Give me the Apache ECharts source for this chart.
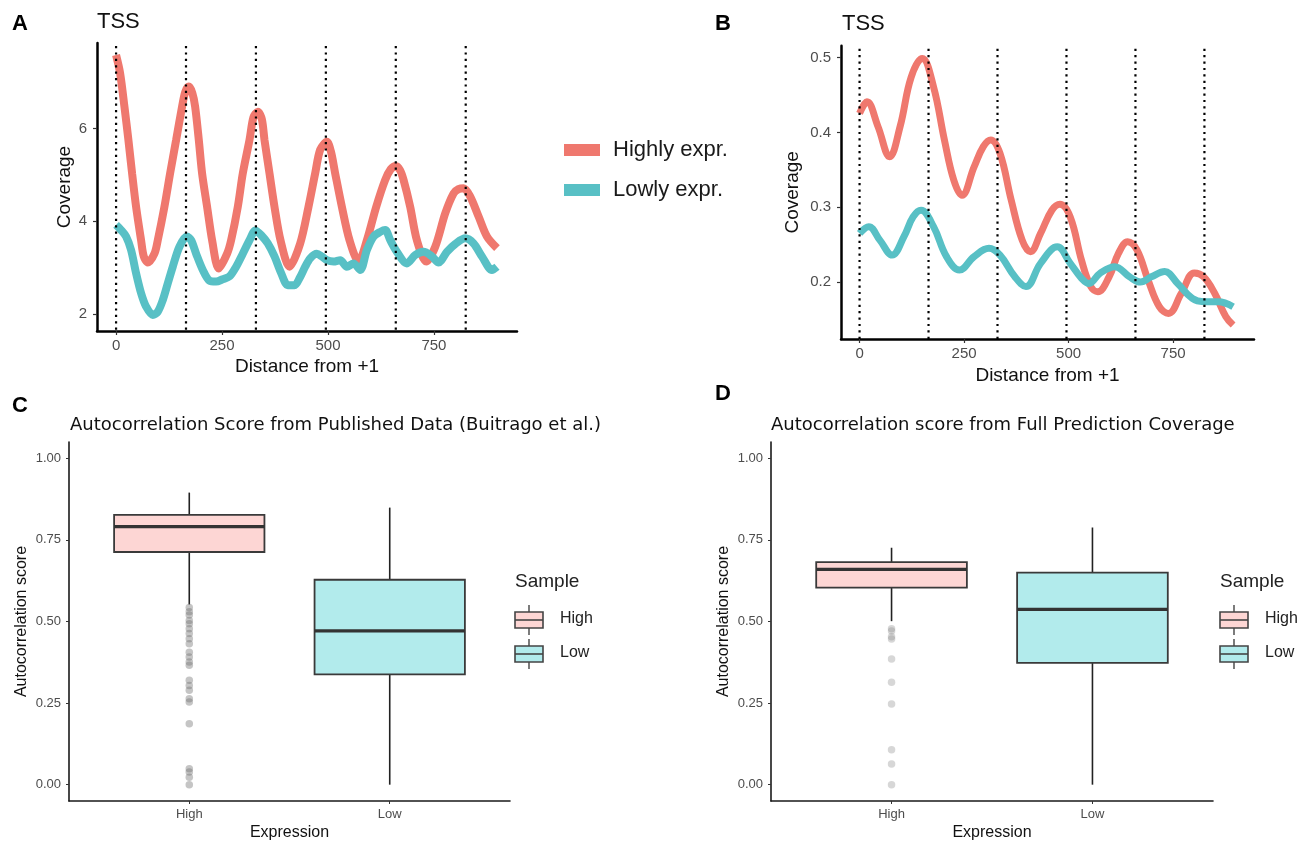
<!DOCTYPE html>
<html><head><meta charset="utf-8">
<script src="https://cdn.jsdelivr.net/npm/echarts@6/dist/echarts.min.js"></script>
<style>html,body{margin:0;padding:0;background:#fff}#c{width:1307px;height:843px}</style>
</head><body><div id="c"></div>
<script>
// ---------- Panel A (TSS coverage, published data) ----------
const aHighX = [0,9.5,19.7,29.1,37.8,47.2,59,65.3,74.8,90.5,98.4,114.1,127.5,141.7,155.8,163,171.6,180,186.5,195.2,203,214.8,226.6,242.4,262,271.5,287.2,299,314.8,324.2,334.5,343.9,350.2,362,373.8,388,409.2,434.4,454,469.8,481.6,497.4,507,517,532.8,550.9,572.1,591.8,613.8,635,648,660.2,670,678.3,694,709.8,731.9,753.1,776.7,796.4,808,820,835.7,855.4,875.1,898.7];
const aHighY = [7.58,7.19,6.47,5.75,5.03,4.31,3.59,3.24,3.11,3.30,3.59,4.31,5.03,5.75,6.47,6.78,6.90,6.76,6.47,5.75,5.03,4.31,3.59,2.98,3.30,3.59,4.31,5.03,5.75,6.24,6.36,6.20,5.75,5.03,4.31,3.59,3.02,3.52,4.31,5.03,5.54,5.71,5.50,5.03,4.31,3.59,3.13,3.59,4.31,4.89,5.12,5.19,5.10,4.89,4.31,3.59,3.13,3.45,4.17,4.60,4.69,4.71,4.53,4.10,3.67,3.42];
const aLowX = [0,11.8,23.6,35.4,47.2,59,70.8,86.6,98.4,110.2,122,133.8,149.5,166.8,177.1,188.9,204.6,220.3,236.1,251.8,267.6,283.3,299,314.8,328.9,342.3,358,373.8,389.5,405.3,421,434.4,446.2,458,473.7,485.5,497.4,513.1,528.8,544.6,560.3,576,591.8,607.5,623.3,635,646.9,662.6,686.2,705.9,725.6,745.3,761,780.6,800.3,823.9,843.6,863.3,886.9,898.7];
const aLowY = [3.92,3.81,3.67,3.38,2.88,2.45,2.16,1.98,2.05,2.30,2.66,3.02,3.45,3.67,3.59,3.30,2.95,2.72,2.70,2.75,2.81,3.02,3.30,3.59,3.80,3.70,3.52,3.24,2.88,2.62,2.62,2.80,3.02,3.20,3.30,3.24,3.16,3.13,3.16,3.02,3.09,2.95,3.38,3.67,3.77,3.81,3.59,3.34,3.09,3.27,3.34,3.24,3.11,3.34,3.51,3.63,3.52,3.24,2.95,3.02];
// ---------- Panel B (TSS coverage, predicted) ----------
const bHighX = [0,17.7,44,72,97,123.5,150,177,203,225.5,245,274,296,314,336,362.6,389,408.7,433,460,479.5,504,531,553,570,597,619,641.5,663.6,690,717,739,770,800.7,823,849.5,876,893.6];
const bHighY = [0.4255,0.441,0.408,0.3675,0.408,0.474,0.499,0.461,0.39,0.336,0.316,0.354,0.381,0.39,0.372,0.31,0.256,0.2405,0.265,0.296,0.304,0.287,0.229,0.194,0.187,0.207,0.238,0.254,0.243,0.203,0.167,0.158,0.185,0.212,0.207,0.185,0.154,0.1425];
const bLowX = [0,22,48.5,78,106,128,147,177,208,239,274,309.6,336,371.5,398,433,473,504,531,548.6,575,610.5,645.8,672,698,730,761,796,823,858,893.6];
const bLowY = [0.265,0.274,0.256,0.236,0.2605,0.287,0.296,0.274,0.234,0.216,0.234,0.245,0.236,0.207,0.194,0.225,0.247,0.225,0.205,0.198,0.2116,0.2205,0.207,0.200,0.207,0.214,0.198,0.178,0.1737,0.1737,0.167];
const nucleosomeLines = [0,165,330,495,660,825];
const seriesNames = ['Highly expr.','Lowly expr.'];
const distTicks = [0,250,500,750];
const aYTicks = [2,4,6];
const bYTicks = [0.2,0.3,0.4,0.5];
// ---------- Panels C & D (autocorrelation boxplots) ----------
const groups = ['High','Low'];
const cMin = [0.552,0.0], cQ1 = [0.713,0.338], cMed = [0.791,0.471], cQ3 = [0.827,0.628], cMax = [0.895,0.849];
const cOutHigh = [0.543,0.530,0.520,0.503,0.493,0.478,0.463,0.447,0.432,0.406,0.391,0.376,0.366,0.320,0.304,0.289,0.263,0.253,0.187,0.049,0.039,0.023,0.000];
const dMin = [0.501,0.0], dQ1 = [0.604,0.373], dMed = [0.660,0.537], dQ3 = [0.682,0.650], dMax = [0.726,0.788];
const dOutHigh = [0.478,0.471,0.453,0.446,0.385,0.314,0.247,0.107,0.063,0.000];
const scoreTicks = [0,0.25,0.5,0.75,1];

const FONT = 'Liberation Sans, Arial, Helvetica, sans-serif';
const WIDE = 'DejaVu Sans, Liberation Sans, sans-serif';
const RED = '#EF786E', BLUE = '#58C0C5';
const FILLS = ['#FDD6D4','#B2EBEC'];

const zip = (xs, ys) => xs.map((x,i)=>[x, ys[i]]);

function vline(params, api){
  const cs = params.coordSys;
  const x = api.coord([api.value(0), api.value(1)])[0];
  return {type:'line', shape:{x1:x,y1:cs.y+3,x2:x,y2:cs.y+cs.height},
    style:{stroke:'#000', lineWidth:2.2, lineDash:[2.2,4.2]}};
}
function boxItem(params, api){
  const g = api.value(0);
  const lo = api.coord([g, api.value(1)])[1];
  const q1 = api.coord([g, api.value(2)])[1];
  const md = api.coord([g, api.value(3)])[1];
  const q3 = api.coord([g, api.value(4)])[1];
  const hi = api.coord([g, api.value(5)])[1];
  const cx = api.coord([g, 0])[0];
  const xL = api.coord([g-0.375, 0])[0];
  const xR = api.coord([g+0.375, 0])[0];
  const fill = FILLS[params.dataIndex];
  return {type:'group', children:[
    {type:'line', shape:{x1:cx,y1:hi,x2:cx,y2:q3}, style:{stroke:'#222', lineWidth:1.6}},
    {type:'line', shape:{x1:cx,y1:q1,x2:cx,y2:lo}, style:{stroke:'#222', lineWidth:1.6}},
    {type:'rect', shape:{x:xL,y:q3,width:xR-xL,height:q1-q3}, style:{fill:fill, stroke:'#3a3a3a', lineWidth:1.8}},
    {type:'line', shape:{x1:xL,y1:md,x2:xR,y2:md}, style:{stroke:'#333', lineWidth:3.2}}
  ]};
}
const boxData = (mn,q1,md,q3,mx) => groups.map((g,i)=>[i+1, mn[i], q1[i], md[i], q3[i], mx[i]]);

function lineAxisX(idx, min, max, nameGap, margin){
  return {type:'value', gridIndex:idx, min:min, max:max, name:'Distance from +1', nameLocation:'middle', nameGap:nameGap,
    nameTextStyle:{fontSize:19, color:'#111', fontFamily:FONT},
    axisLine:{onZero:false, lineStyle:{color:'#000', width:2.5}}, splitLine:{show:false},
    axisTick:{customValues:distTicks, length:4, lineStyle:{color:'#333', width:1.2}},
    axisLabel:{customValues:distTicks, fontSize:15, color:'#4d4d4d', margin:margin, fontFamily:FONT}};
}
function lineAxisY(idx, min, max, ticks, fmt, nameGap, margin){
  return {type:'value', gridIndex:idx, min:min, max:max, name:'Coverage', nameLocation:'middle', nameGap:nameGap, nameRotate:90,
    nameTextStyle:{fontSize:19, color:'#111', fontFamily:FONT},
    axisLine:{show:true, onZero:false, lineStyle:{color:'#000', width:2.5}}, splitLine:{show:false},
    axisTick:{show:true, customValues:ticks, length:4, lineStyle:{color:'#333', width:1.2}},
    axisLabel:{customValues:ticks, fontSize:15, color:'#4d4d4d', margin:margin, fontFamily:FONT, formatter:fmt}};
}
function boxAxisX(idx){
  return {type:'value', gridIndex:idx, min:0.4, max:2.6, name:'Expression', nameLocation:'middle', nameGap:24,
    nameTextStyle:{fontSize:16, color:'#111', fontFamily:FONT},
    axisLine:{onZero:false, lineStyle:{color:'#1a1a1a', width:1.6}}, splitLine:{show:false},
    axisTick:{customValues:[1,2], length:3, lineStyle:{color:'#333'}},
    axisLabel:{customValues:[1,2], fontSize:13, color:'#4d4d4d', margin:7, fontFamily:FONT, formatter:v=>groups[Math.round(v)-1]}};
}
function boxAxisY(idx){
  return {type:'value', gridIndex:idx, min:-0.05, max:1.05, name:'Autocorrelation score', nameLocation:'middle', nameGap:39, nameRotate:90,
    nameTextStyle:{fontSize:16, color:'#111', fontFamily:FONT},
    axisLine:{show:true, onZero:false, lineStyle:{color:'#1a1a1a', width:1.6}}, splitLine:{show:false},
    axisTick:{show:true, customValues:scoreTicks, length:3, lineStyle:{color:'#333'}},
    axisLabel:{customValues:scoreTicks, fontSize:13, color:'#4d4d4d', margin:8, fontFamily:FONT, formatter:v=>v.toFixed(2)}};
}

function boxLegend(x0){
  const els = [];
  els.push({type:'text', left:x0, top:572, style:{text:'Sample', fontSize:19, fill:'#222', fontFamily:FONT}});
  const rows = [{y:620, label:'High', fill:FILLS[0]}, {y:654, label:'Low', fill:FILLS[1]}];
  rows.forEach(r=>{
    els.push({type:'line', shape:{x1:x0+14,y1:r.y-15,x2:x0+14,y2:r.y+15}, style:{stroke:'#444', lineWidth:1.4}});
    els.push({type:'rect', shape:{x:x0,y:r.y-8,width:28,height:16}, style:{fill:r.fill, stroke:'#444', lineWidth:1.6}});
    els.push({type:'line', shape:{x1:x0,y1:r.y,x2:x0+28,y2:r.y}, style:{stroke:'#444', lineWidth:1.6}});
    els.push({type:'text', left:x0+45, top:r.y-9, style:{text:r.label, fontSize:16, fill:'#222', fontFamily:FONT}});
  });
  return els;
}

const chart = echarts.init(document.getElementById('c'), null, {renderer:'canvas'});
chart.setOption({
  animation:false,
  backgroundColor:'#fff',
  textStyle:{fontFamily:FONT},
  title:[
    {text:'A', left:7, top:8, textStyle:{fontSize:22, fontWeight:'bold', color:'#000', fontFamily:FONT}},
    {text:'TSS', left:92, top:6, textStyle:{fontSize:22, fontWeight:'normal', color:'#111', fontFamily:FONT}},
    {text:'B', left:710, top:8, textStyle:{fontSize:22, fontWeight:'bold', color:'#000', fontFamily:FONT}},
    {text:'TSS', left:837, top:8, textStyle:{fontSize:22, fontWeight:'normal', color:'#111', fontFamily:FONT}},
    {text:'C', left:7, top:390, textStyle:{fontSize:22, fontWeight:'bold', color:'#000', fontFamily:FONT}},
    {text:'Autocorrelation Score from Published Data (Buitrago et al.)', left:65, top:411, textStyle:{fontSize:18, fontWeight:'normal', color:'#111', fontFamily:WIDE}},
    {text:'D', left:710, top:378, textStyle:{fontSize:22, fontWeight:'bold', color:'#000', fontFamily:FONT}},
    {text:'Autocorrelation score from Full Prediction Coverage', left:766, top:411, textStyle:{fontSize:18, fontWeight:'normal', color:'#111', fontFamily:WIDE}}
  ],
  legend:{data:seriesNames, orient:'vertical', left:559, top:134, icon:'rect', itemWidth:36, itemHeight:12, itemGap:18,
    textStyle:{fontSize:22, color:'#1a1a1a', fontFamily:FONT, padding:[0,0,0,8]}, selectedMode:false},
  grid:[
    {left:97, top:43, width:420, height:288},
    {left:841, top:45.7, width:413, height:293.3},
    {left:69, top:442, width:441, height:359},
    {left:771, top:442, width:442, height:359}
  ],
  xAxis:[
    lineAxisX(0, -45, 946, 26, 7),
    lineAxisX(1, -44.4, 943.6, 27, 7),
    boxAxisX(2), boxAxisX(3)
  ],
  yAxis:[
    lineAxisY(0, 1.634, 7.84, aYTicks, v=>String(v), 23, 10),
    lineAxisY(1, 0.1238, 0.516, bYTicks, v=>String(Math.round(v*10)/10), 39, 10),
    boxAxisY(2), boxAxisY(3)
  ],
  series:[
    {name:seriesNames[0], type:'line', xAxisIndex:0, yAxisIndex:0, data:zip(aHighX,aHighY), smooth:0.3, showSymbol:false,
      lineStyle:{color:RED, width:8}, itemStyle:{color:RED}, z:2},
    {name:seriesNames[1], type:'line', xAxisIndex:0, yAxisIndex:0, data:zip(aLowX,aLowY), smooth:0.3, showSymbol:false,
      lineStyle:{color:BLUE, width:8}, itemStyle:{color:BLUE}, z:3},
    {type:'custom', xAxisIndex:0, yAxisIndex:0, data:nucleosomeLines.map(v=>[v,4]), renderItem:vline, z:10, silent:true},
    {name:seriesNames[0], type:'line', xAxisIndex:1, yAxisIndex:1, data:zip(bHighX,bHighY), smooth:0.4, showSymbol:false,
      lineStyle:{color:RED, width:7}, itemStyle:{color:RED}, z:2},
    {name:seriesNames[1], type:'line', xAxisIndex:1, yAxisIndex:1, data:zip(bLowX,bLowY), smooth:0.4, showSymbol:false,
      lineStyle:{color:BLUE, width:7}, itemStyle:{color:BLUE}, z:3},
    {type:'custom', xAxisIndex:1, yAxisIndex:1, data:nucleosomeLines.map(v=>[v,0.3]), renderItem:vline, z:10, silent:true},
    {type:'custom', xAxisIndex:2, yAxisIndex:2, data:boxData(cMin,cQ1,cMed,cQ3,cMax), renderItem:boxItem, z:2},
    {type:'scatter', xAxisIndex:2, yAxisIndex:2, data:cOutHigh.map(v=>[1,v]), symbolSize:7.5,
      itemStyle:{color:'rgba(110,110,110,0.5)'}, z:3},
    {type:'custom', xAxisIndex:3, yAxisIndex:3, data:boxData(dMin,dQ1,dMed,dQ3,dMax), renderItem:boxItem, z:2},
    {type:'scatter', xAxisIndex:3, yAxisIndex:3, data:dOutHigh.map(v=>[1,v]), symbolSize:7.5,
      itemStyle:{color:'rgba(130,130,130,0.4)'}, z:3}
  ],
  graphic: boxLegend(515).concat(boxLegend(1220))
});
</script></body></html>
